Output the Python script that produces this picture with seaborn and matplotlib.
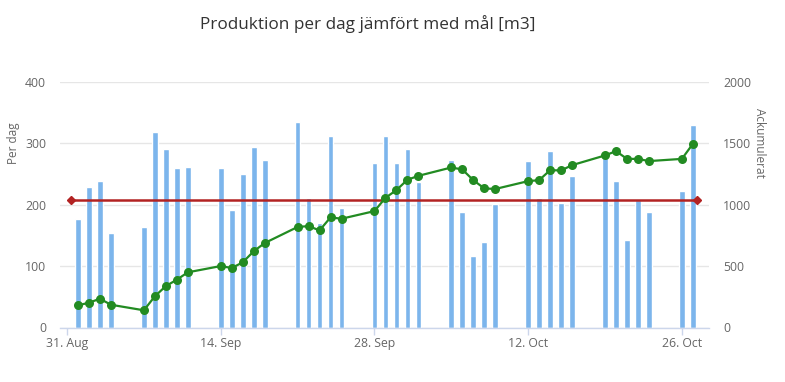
import pandas as pd
import matplotlib
matplotlib.use('Agg')
import matplotlib.pyplot as plt
import seaborn as sns

# dagar med produktion (vardagar)
dates = ['2020-09-01', '2020-09-02', '2020-09-03', '2020-09-04',
         '2020-09-07', '2020-09-08', '2020-09-09', '2020-09-10', '2020-09-11',
         '2020-09-14', '2020-09-15', '2020-09-16', '2020-09-17', '2020-09-18',
         '2020-09-21', '2020-09-22', '2020-09-23', '2020-09-24', '2020-09-25',
         '2020-09-28', '2020-09-29', '2020-09-30', '2020-10-01', '2020-10-02',
         '2020-10-05', '2020-10-06', '2020-10-07', '2020-10-08', '2020-10-09',
         '2020-10-12', '2020-10-13', '2020-10-14', '2020-10-15', '2020-10-16',
         '2020-10-19', '2020-10-20', '2020-10-21', '2020-10-22', '2020-10-23',
         '2020-10-26', '2020-10-27']

per_dag = [177, 228, 238, 154,
           163, 318, 290, 259, 262,
           259, 191, 250, 293, 273,
           335, 211, 170, 311, 195,
           268, 312, 268, 291, 237,
           273, 188, 117, 139, 201,
           271, 211, 287, 203, 247,
           287, 239, 142, 208, 188,
           222, 329]

ackumulerat = [180, 202, 234, 185,
               140, 254, 337, 389, 449,
               500, 484, 530, 620, 687,
               818, 825, 790, 896, 885,
               947, 1055, 1118, 1202, 1234,
               1302, 1286, 1199, 1132, 1127,
               1191, 1199, 1280, 1278, 1321,
               1400, 1435, 1372, 1372, 1354,
               1372, 1494]

mal_dates = ['2020-08-31 08:40', '2020-10-27 09:40']
mal_value = [207, 207]

tick_dates = ['2020-08-31', '2020-09-14', '2020-09-28', '2020-10-12', '2020-10-26']
tick_labels = ['31. Aug', '14. Sep', '28. Sep', '12. Oct', '26. Oct']

start = pd.Timestamp('2020-08-31')
def to_days(d):
    return [(pd.Timestamp(x) - start) / pd.Timedelta(days=1) for x in d]

df = pd.DataFrame({'dag': to_days(dates), 'per_dag': per_dag, 'ack': ackumulerat})

sns.set_theme(style='white')
plt.rcParams['font.family'] = ['Open Sans', 'DejaVu Sans']

fig = plt.figure(figsize=(7.85, 3.82), dpi=100)
ax = fig.add_axes([60/785, 54.5/382, 649/785, 245.8/382])

sns.barplot(data=df, x='dag', y='per_dag', native_scale=True, width=0.52,
            color='#7cb5ec', saturation=1, ax=ax, zorder=2)
ax.plot(to_days(mal_dates), mal_value, color='#b22222', lw=1.8, marker='D',
        markersize=4, zorder=3)

ax.set_xlim(-0.64, 58.47)
ax.set_ylim(0, 400)
ax.set_yticks([0, 100, 200, 300, 400])
ax.grid(axis='y', color='#e6e6e6', lw=1)
ax.set_axisbelow(True)
for s in ['top', 'left', 'right']:
    ax.spines[s].set_visible(False)
ax.spines['bottom'].set_color('#ccd6eb')
ax.spines['bottom'].set_linewidth(1)
ax.set_xticks(to_days(tick_dates))
ax.set_xticklabels(tick_labels)
ax.tick_params(axis='x', bottom=True, length=5, width=1, color='#ccd6eb',
               labelsize=8.8, labelcolor='#666666', pad=2)
ax.tick_params(axis='y', left=False, right=False, length=0, labelsize=8.8,
               labelcolor='#666666', pad=10)
ax.set_xlabel('')
ax.set_ylabel('')

ax2 = ax.twinx()
sns.lineplot(data=df, x='dag', y='ack', color='#228b22', lw=1.6, marker='o',
             markersize=6.5, markeredgewidth=0, ax=ax2, zorder=4)
ax2.set_ylim(0, 2000)
ax2.set_yticks([0, 500, 1000, 1500, 2000])
ax2.tick_params(axis='y', left=False, right=False, length=0, labelsize=8.8,
                labelcolor='#666666', pad=10)
for s in ['top', 'left', 'right', 'bottom']:
    ax2.spines[s].set_visible(False)
ax2.set_xlabel('')
ax2.set_ylabel('')

fig.text(368/785, 1 - 24/382, 'Produktion per dag jämfört med mål [m3]',
         ha='center', va='center', fontsize=12.3, color='#333333')
fig.text(13/785, 1 - 143/382, 'Per dag', rotation=90, ha='center', va='center',
         fontsize=8.5, color='#666666')
fig.text(759/785, 1 - 143/382, 'Ackumulerat', rotation=-90, ha='center',
         va='center', fontsize=8.5, color='#666666')

fig.savefig('out.png', dpi=100)
